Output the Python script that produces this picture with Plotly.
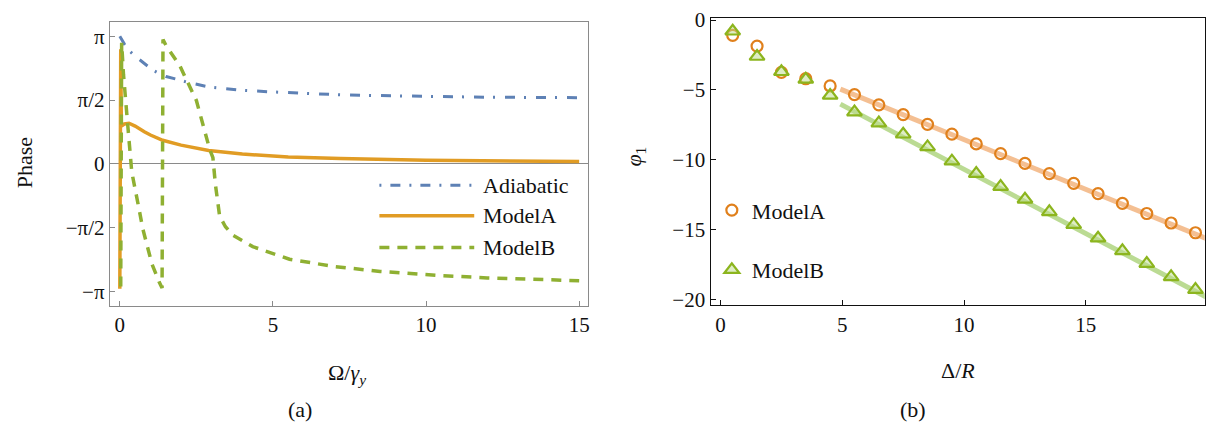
import math
import plotly.graph_objects as go

# ---------------- data: panel (a) ----------------
adiabatic_x = [0, 0.15, 0.32, 0.5, 0.69, 0.9, 1.07, 1.3, 1.51, 1.83, 2.2, 2.93, 4.0, 5.0, 6.08, 7.2, 8.5, 10, 12, 13.5, 15]
adiabatic_y = [3.14, 2.95, 2.78, 2.65, 2.54, 2.42, 2.31, 2.22, 2.15, 2.09, 2.01, 1.89, 1.81, 1.77, 1.73, 1.70, 1.68, 1.66, 1.64, 1.635, 1.63]

modelA_x = [0.0, 0.03, 0.05, 0.15, 0.3, 0.5, 0.8, 1.0, 1.4, 2.0, 2.9, 4.0, 5.5, 7.2, 10, 12.5, 15]
modelA_y = [-3.08, 2.82, 0.93, 0.98, 1.0, 0.93, 0.79, 0.71, 0.58, 0.46, 0.33, 0.24, 0.17, 0.13, 0.09, 0.07, 0.055]

modelB_x = [0.03, 0.06, 0.12, 0.18, 0.24, 0.31, 0.39, 0.53, 0.64, 0.75, 0.89, 1.05, 1.29, 1.38, 1.41, 1.52, 1.95, 2.5,
            2.93, 3.04, 3.12, 3.19, 3.26, 3.45, 3.69, 4.34, 5.54, 7.0, 8.5, 10.4, 12.0, 15.0]
modelB_y = [-3.02, 2.98, 2.2, 1.6, 1.21, 0.5, -0.2, -0.69, -1.16, -1.6, -2.04, -2.47, -2.92, -3.06, 3.06, 2.90, 2.43, 1.56,
            0.37, 0.15, -0.5, -0.97, -1.29, -1.55, -1.76, -2.04, -2.35, -2.53, -2.65, -2.75, -2.81, -2.88]

phase_tickvals = [-math.pi, -math.pi / 2, 0, math.pi / 2, math.pi]
phase_ticktext = ["−π", "−π/2", "0", "π/2", "π"]
omega_ticks = [0, 5, 10, 15]
legend_a_names = ["Adiabatic", "ModelA", "ModelB"]

# ---------------- data: panel (b) ----------------
delta_pts = [0.5, 1.5, 2.5, 3.5, 4.5, 5.5, 6.5, 7.5, 8.5, 9.5, 10.5, 11.5, 12.5, 13.5, 14.5, 15.5, 16.5, 17.5, 18.5, 19.5]
phi_A = [-1.09, -1.86, -3.75, -4.2, -4.72, -5.34, -6.07, -6.77, -7.47, -8.17, -8.87, -9.57, -10.27, -11.0, -11.7,
         -12.43, -13.13, -13.86, -14.54, -15.24]
phi_B = [-0.8, -2.61, -3.7, -4.25, -5.4, -6.59, -7.38, -8.18, -9.09, -10.11, -11.0, -11.93, -12.84, -13.74, -14.66,
         -15.63, -16.54, -17.45, -18.4, -19.31]
fit_x = [4.92, 20.2]
fit_A = [-4.95, -15.83]
fit_B = [-6.02, -20.08]
delta_ticks = [0, 5, 10, 15]
phi_ticks = [0, -5, -10, -15, -20]

# ---------------- styles ----------------
FONT = "Liberation Serif"
BLUE = "#5E81B5"
ORANGE = "#E19C24"
GREEN = "#8FB032"
M_ORANGE = "#E0801C"
M_GREEN = "#8CB51E"
FIT_ORANGE = "rgba(240,170,110,0.75)"
FIT_GREEN = "rgba(170,210,120,0.8)"
GRAY = "#8a8a8a"
BLACK = "#111"

BLUE_DASH = "10px,9px,2px,10px"
GREEN_DASH = "10px,8px"

# page body has an 8px default margin: the figure is sized/offset to fill the window
OFF = 8
FW, FH = 1219 - OFF, 434 - OFF


def PX(px):
    return min(1.0, max(0.0, (px - OFF) / FW))


def PY(py):
    return min(1.0, max(0.0, 1 - (py - OFF) / FH))


fig = go.Figure()

# panel (a) curves
fig.add_trace(go.Scatter(x=adiabatic_x, y=adiabatic_y, mode="lines", name=legend_a_names[0], showlegend=False,
                         line=dict(color=BLUE, width=3, dash=BLUE_DASH), xaxis="x", yaxis="y"))
fig.add_trace(go.Scatter(x=modelA_x, y=modelA_y, mode="lines", name=legend_a_names[1], showlegend=False,
                         line=dict(color=ORANGE, width=3.5), xaxis="x", yaxis="y"))
fig.add_trace(go.Scatter(x=modelB_x, y=modelB_y, mode="lines", name=legend_a_names[2], showlegend=False,
                         line=dict(color=GREEN, width=3.5, dash=GREEN_DASH), xaxis="x", yaxis="y"))

# panel (b)
fig.add_trace(go.Scatter(x=fit_x, y=fit_A, mode="lines", showlegend=False,
                         line=dict(color=FIT_ORANGE, width=5), xaxis="x2", yaxis="y2"))
fig.add_trace(go.Scatter(x=fit_x, y=fit_B, mode="lines", showlegend=False,
                         line=dict(color=FIT_GREEN, width=5), xaxis="x2", yaxis="y2"))
fig.add_trace(go.Scatter(x=delta_pts, y=phi_A, mode="markers", name="ModelA",
                         marker=dict(symbol="circle-open", size=11, color=M_ORANGE, line=dict(width=2.2, color=M_ORANGE)),
                         xaxis="x2", yaxis="y2", legendgroup="b1"))
fig.add_trace(go.Scatter(x=delta_pts, y=phi_B, mode="markers", name="ModelB",
                         marker=dict(symbol="triangle-up", size=13, color="rgba(190,220,140,0.5)",
                                     line=dict(width=2.2, color=M_GREEN)),
                         xaxis="x2", yaxis="y2", legendgroup="b2"))

# legend of panel (a): long line samples + text
legend_rows_y = [181.7, 213.5, 246.5]
legend_styles = [dict(color=BLUE, width=3, dash="2px,9px,10px,9px"),
                 dict(color=ORANGE, width=3.5),
                 dict(color=GREEN, width=3.5, dash=GREEN_DASH)]
shapes = []
annotations = []
for name, ry, st in zip(legend_a_names, legend_rows_y, legend_styles):
    shapes.append(dict(type="line", xref="paper", yref="paper", x0=PX(380), x1=PX(475),
                       y0=PY(ry), y1=PY(ry), line=st))
    annotations.append(dict(text=name, x=PX(482), y=PY(ry), xref="paper", yref="paper", xanchor="left",
                            yanchor="middle", showarrow=False, font=dict(family=FONT, size=22, color=BLACK)))


def label(text, px, py, angle=0, size=22):
    return dict(text=text, x=PX(px), y=PY(py), xref="paper", yref="paper", xanchor="center",
                yanchor="middle", textangle=angle, showarrow=False,
                font=dict(family=FONT, size=size, color=BLACK))


annotations += [
    label("Ω/<i>γ</i><sub><i>y</i></sub>", 348, 378),
    label("(a)", 300, 415),
    label("Phase", 24, 158, angle=-90, size=22),
    label("Δ/<i>R</i>", 960, 374),
    label("(b)", 914, 415),
    label("<i>φ</i><sub>1</sub>", 636, 152, angle=-90),
]

axis_font = dict(family=FONT, size=21, color=BLACK)

fig.update_layout(
    width=FW, height=FH,
    margin=dict(l=0, r=0, t=0, b=0),
    paper_bgcolor="white", plot_bgcolor="white",
    font=dict(family=FONT, size=21, color=BLACK),
    xaxis=dict(domain=[PX(110), PX(589)], range=[-0.326, 15.29], tickvals=omega_ticks,
               ticks="inside", ticklen=5, tickcolor=GRAY, showline=True, linecolor=GRAY, linewidth=1.2,
               mirror=True, showgrid=False, zeroline=False, tickfont=axis_font, anchor="y"),
    yaxis=dict(domain=[PY(307), PY(12)], range=[-3.497, 3.497], tickvals=phase_tickvals,
               ticktext=phase_ticktext, ticks="inside", ticklen=5, tickcolor=GRAY, showline=True,
               linecolor=GRAY, linewidth=1.2, mirror=True, showgrid=False, zeroline=True,
               zerolinecolor=GRAY, zerolinewidth=1.2, tickfont=axis_font, anchor="x"),
    xaxis2=dict(domain=[PX(711.7), PX(1206.7)], range=[-0.41, 19.88], tickvals=delta_ticks,
                ticks="inside", ticklen=5, tickcolor=BLACK, showline=True, linecolor=BLACK, linewidth=1.3,
                mirror=True, showgrid=False, zeroline=False, tickfont=axis_font, anchor="y2"),
    yaxis2=dict(domain=[PY(306.7), PY(8.5)], range=[-20.45, 0.116], tickvals=phi_ticks,
                ticks="inside", ticklen=5, tickcolor=BLACK, showline=True, linecolor=BLACK, linewidth=1.3,
                mirror=True, showgrid=False, zeroline=False, tickfont=axis_font, anchor="x2",
                ticklabeloverflow="allow"),
    legend=dict(x=PX(713), y=PY(186), xanchor="left", yanchor="top", bgcolor="rgba(0,0,0,0)",
                font=dict(family=FONT, size=22, color=BLACK), tracegroupgap=28, itemwidth=30),
    shapes=shapes,
    annotations=annotations,
)

fig.write_html("out.html")
